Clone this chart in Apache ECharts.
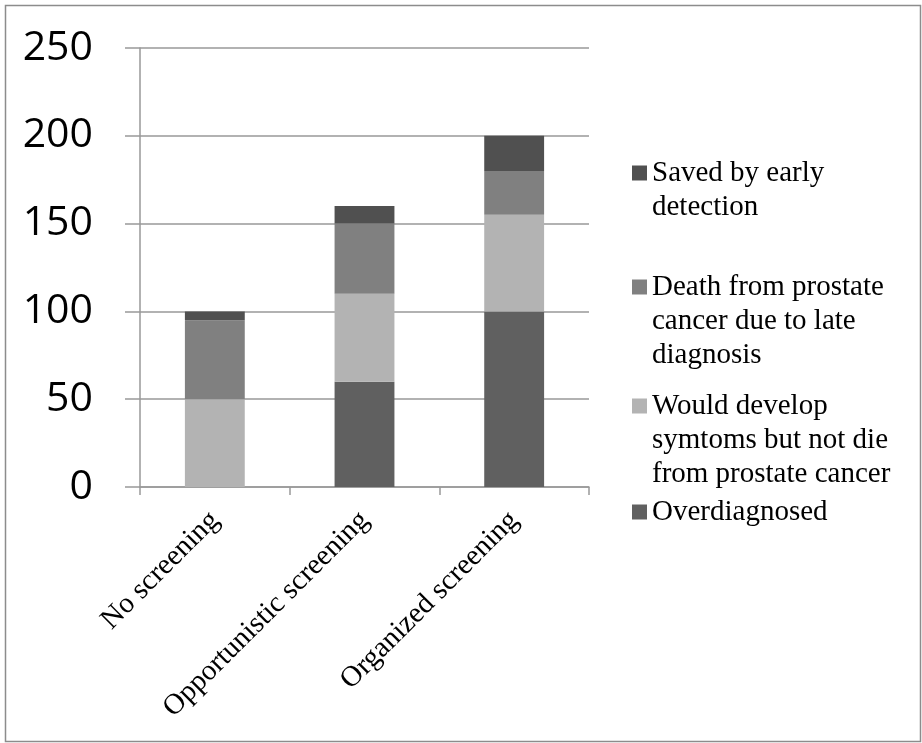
<!DOCTYPE html>
<html>
<head>
<meta charset="utf-8">
<script src="https://cdn.jsdelivr.net/npm/echarts@6/dist/echarts.min.js"></script>
<style>
  html, body { margin: 0; padding: 0; background: #fff; }
  #chart { width: 922px; height: 743px; }
</style>
</head>
<body>
<div id="chart"></div>
<script>
// Screening strategies (x axis)
const categories = ['No screening', 'Opportunistic screening', 'Organized screening'];

// Stacked segments, bottom to top
const overdiagnosed = [0, 60, 100];
const wouldDevelop = [50, 50, 55];
const deathLate = [45, 40, 25];
const savedEarly = [5, 10, 20];

// Y axis ticks
const yTicks = [0, 50, 100, 150, 200, 250];

// Series names and their wrapped legend text
const seriesNames = [
  'Overdiagnosed',
  'Would develop symtoms but not die from prostate cancer',
  'Death from prostate cancer due to late diagnosis',
  'Saved by early detection'
];
const legendLines = {
  'Saved by early detection': ['Saved by early', 'detection'],
  'Death from prostate cancer due to late diagnosis': ['Death from prostate', 'cancer due to late', 'diagnosis'],
  'Would develop symtoms but not die from prostate cancer': ['Would develop', 'symtoms but not die', 'from prostate cancer'],
  'Overdiagnosed': ['Overdiagnosed']
};

const colors = {
  'Overdiagnosed': '#606060',
  'Would develop symtoms but not die from prostate cancer': '#b3b3b3',
  'Death from prostate cancer due to late diagnosis': '#808080',
  'Saved by early detection': '#505050'
};

const values = [overdiagnosed, wouldDevelop, deathLate, savedEarly];

const axisGray = '#999999';
const LINE_H = 34;

// One legend block per series. Legend text is centred on the swatch, so
// blank lines are put in front of the text to keep the swatch level with
// the first written line.
const legendCenters = {
  'Saved by early detection': 173,
  'Death from prostate cancer due to late diagnosis': 287,
  'Would develop symtoms but not die from prostate cancer': 406,
  'Overdiagnosed': 512
};
const legends = Object.keys(legendCenters).map(name => {
  const n = legendLines[name].length;
  return {
    data: [name],
    orient: 'vertical',
    left: 632,
    top: legendCenters[name] - (2 * n - 1) * LINE_H / 2,
    padding: 0,
    itemWidth: 15,
    itemHeight: 15,
    icon: 'rect',
    selectedMode: false,
    formatter: nm => {
      const lines = legendLines[nm];
      return new Array(lines.length - 1).fill('').concat(lines).join('\n');
    },
    textStyle: {
      fontFamily: '"Liberation Serif", "Times New Roman", serif',
      fontSize: 29,
      color: '#000',
      lineHeight: LINE_H
    }
  };
});

const chart = echarts.init(document.getElementById('chart'), null, { renderer: 'canvas' });

chart.setOption({
  animation: false,
  backgroundColor: '#ffffff',
  graphic: [{
    type: 'rect',
    shape: { x: 5.5, y: 5.5, width: 915, height: 736 },
    style: { fill: 'none', stroke: '#8c8c8c', lineWidth: 1.5 },
    silent: true
  }],
  grid: { left: 140, right: 333, top: 48, bottom: 256 },
  legend: legends,
  xAxis: {
    type: 'category',
    data: categories,
    axisLine: { show: true, lineStyle: { color: axisGray, width: 1.5 } },
    axisTick: { show: true, length: 8, lineStyle: { color: axisGray, width: 1.5 } },
    axisLabel: {
      interval: 0,
      rotate: 45,
      margin: 29,
      fontFamily: '"Liberation Serif", "Times New Roman", serif',
      fontSize: 29,
      color: '#000'
    },
    splitLine: { show: false }
  },
  yAxis: {
    type: 'value',
    min: yTicks[0],
    max: yTicks[yTicks.length - 1],
    interval: yTicks[1] - yTicks[0],
    axisLine: { show: true, lineStyle: { color: axisGray, width: 1.5 } },
    axisTick: { show: true, inside: false, length: 15, lineStyle: { color: axisGray, width: 1.5 } },
    axisLabel: {
      margin: 47,
      fontFamily: '"Open Sans", "Liberation Sans", sans-serif',
      fontSize: 41,
      color: '#000'
    },
    splitLine: { show: true, lineStyle: { color: axisGray, width: 1.5 } }
  },
  series: seriesNames.map((name, i) => ({
    name: name,
    type: 'bar',
    stack: 'total',
    barWidth: '40%',
    data: values[i],
    itemStyle: { color: colors[name] },
    emphasis: { disabled: true }
  }))
});
</script>
</body>
</html>
